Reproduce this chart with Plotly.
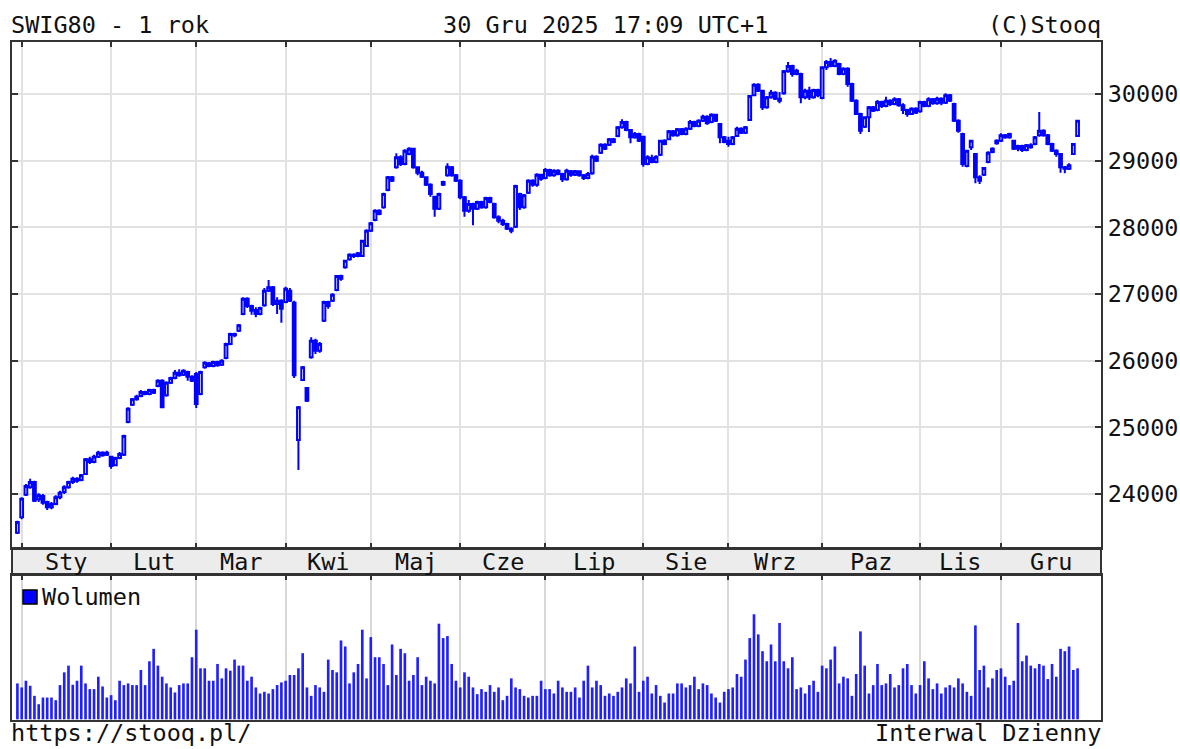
import plotly.graph_objects as go

# ---------------- data ----------------
months = ["Sty", "Lut", "Mar", "Kwi", "Maj", "Cze", "Lip", "Sie", "Wrz", "Paz", "Lis", "Gru"]
month_start = [1, 22, 42, 63, 83, 104, 124, 147, 167, 189, 212, 231]   # trading-day index of first session
price_ticks = [24000, 25000, 26000, 27000, 28000, 29000, 30000]

open_ = [
    # Dec 30 + Jan
    23420, 23650, 23990, 24100, 24180, 23920, 23970, 23880, 23800, 23850, 23950, 24030, 24100, 24180, 24230, 24210, 24300, 24520, 24480, 24560, 24620, 24590,
    # Feb
    24560, 24430, 24540, 24590, 25080, 25340, 25420, 25470, 25530, 25500, 25560, 25620, 25700, 25480, 25670, 25740, 25820, 25790, 25830, 25760,
    # Mar
    25800, 25500, 25900, 25960, 25920, 25980, 25940, 26040, 26250, 26400, 26450, 26700, 26930, 26820, 26760, 26700, 26830, 27050, 27100, 26850, 26900,
    # Apr
    26880, 27050, 26870, 24810, 25710, 25590, 26050, 26300, 26150, 26600, 26880, 26900, 27060, 27270, 27400, 27520, 27590, 27570, 27570, 27720,
    # May
    27950, 28110, 28250, 28300, 28560, 28750, 28900, 29050, 28950, 29100, 29180, 28900, 28820, 28750, 28640, 28460, 28280, 28640, 28780, 28900, 28780,
    # Jun
    28700, 28450, 28250, 28350, 28280, 28380, 28300, 28440, 28350, 28150, 28100, 28050, 27980, 28010, 28500, 28300, 28520, 28700, 28640, 28790,
    # Jul
    28740, 28860, 28780, 28850, 28800, 28720, 28840, 28790, 28840, 28780, 28740, 28810, 29060, 29120, 29240, 29240, 29320, 29370, 29500, 29580, 29460, 29350, 29400,
    # Aug
    29360, 28950, 29040, 28980, 29090, 29300, 29320, 29440, 29380, 29470, 29400, 29480, 29580, 29520, 29600, 29660, 29580, 29690, 29550, 29350,
    # Sep
    29300, 29250, 29370, 29480, 29420, 29610, 29980, 30140, 30050, 29800, 29950, 30020, 29930, 30010, 30340, 30420, 30300, 30300, 29950, 30050, 29950, 30060,
    # Oct
    29940, 30400, 30480, 30420, 30450, 30300, 30380, 30150, 29900, 29700, 29510, 29650, 29800, 29760, 29880, 29820, 29900, 29850, 29920, 29830, 29760, 29700, 29780,
    # Nov
    29740, 29880, 29820, 29920, 29860, 29930, 29870, 29980, 29850, 29600, 29400, 28920, 29200, 29100, 28750, 28790, 28980, 29130, 29260,
    # Dec
    29300, 29380, 29350, 29300, 29180, 29220, 29160, 29230, 29250, 29380, 29450, 29380, 29250, 29150, 29100, 28900, 28880, 29100, 29370,
]

close = [
    23580, 23930, 24120, 24180, 23900, 23980, 23870, 23800, 23850, 23950, 24020, 24100, 24180, 24230, 24200, 24280, 24520, 24480, 24560, 24620, 24580, 24620,
    24420, 24540, 24600, 24870, 25280, 25420, 25460, 25530, 25500, 25560, 25520, 25700, 25300, 25670, 25740, 25820, 25780, 25850, 25760, 25700,
    25350, 25830, 25970, 25920, 25980, 25930, 26000, 26250, 26400, 26380, 26530, 26930, 26820, 26750, 26700, 26790, 27050, 27100, 26850, 26900, 26780,
    27080, 26900, 25780, 25300, 25900, 25400, 26300, 26150, 26250, 26880, 26820, 26990, 27270, 27230, 27500, 27590, 27570, 27610, 27800, 27950,
    28060, 28250, 28200, 28500, 28750, 28700, 29050, 28950, 29150, 29180, 28900, 28820, 28760, 28640, 28500, 28280, 28500, 28680, 28910, 28780, 28700,
    28450, 28250, 28350, 28280, 28380, 28300, 28440, 28380, 28150, 28100, 28050, 27980, 27950, 28620, 28300, 28480, 28700, 28640, 28790, 28730,
    28860, 28780, 28850, 28800, 28720, 28850, 28790, 28840, 28780, 28740, 28800, 29060, 29000, 29240, 29180, 29320, 29280, 29500, 29580, 29460, 29350, 29400, 29300,
    28950, 29050, 28980, 29060, 29300, 29250, 29440, 29380, 29470, 29400, 29480, 29580, 29520, 29600, 29660, 29560, 29690, 29600, 29350, 29280,
    29250, 29350, 29480, 29420, 29500, 29970, 30140, 30050, 29800, 29950, 30020, 29930, 29900, 30340, 30420, 30300, 30350, 29950, 30050, 29950, 30060, 29980,
    30400, 30480, 30420, 30500, 30300, 30380, 30150, 29900, 29700, 29450, 29650, 29800, 29750, 29880, 29820, 29900, 29850, 29920, 29830, 29760, 29700, 29780, 29720,
    29880, 29820, 29920, 29860, 29930, 29870, 29980, 29900, 29600, 29450, 28950, 29150, 29300, 28750, 28700, 28890, 29120, 29180, 29300,
    29380, 29350, 29400, 29180, 29220, 29160, 29230, 29200, 29350, 29450, 29380, 29250, 29150, 29100, 28900, 28880, 28930, 29250, 29600,
]

high = [
    23600, 23950, 24150, 24230, 24200, 24010, 24000, 23900, 23880, 23980, 24050, 24130, 24200, 24260, 24250, 24300, 24540, 24560, 24590, 24650, 24640, 24650,
    24570, 24560, 24630, 24890, 25300, 25440, 25490, 25560, 25550, 25580, 25580, 25720, 25720, 25690, 25760, 25860, 25870, 25870, 25850, 25780,
    25830, 25850, 25990, 25980, 26000, 26000, 26020, 26270, 26420, 26420, 26550, 26950, 26950, 26840, 26800, 26810, 27090, 27210, 27120, 26950, 26920,
    27110, 27090, 26900, 25320, 25920, 25600, 26350, 26330, 26280, 26900, 26900, 27010, 27280, 27290, 27510, 27610, 27610, 27630, 27810, 27970,
    28080, 28270, 28270, 28520, 28770, 28770, 29110, 29080, 29170, 29200, 29190, 28910, 28850, 28760, 28660, 28470, 28520, 28700, 28960, 28920, 28800,
    28720, 28470, 28410, 28370, 28400, 28400, 28460, 28460, 28370, 28180, 28130, 28070, 28000, 28640, 28520, 28500, 28720, 28720, 28810, 28800,
    28890, 28880, 28870, 28870, 28820, 28880, 28860, 28860, 28850, 28800, 28830, 29090, 29080, 29260, 29260, 29340, 29340, 29520, 29620, 29600, 29470, 29430, 29420,
    29370, 29080, 29090, 29080, 29310, 29320, 29460, 29460, 29490, 29490, 29500, 29610, 29600, 29620, 29690, 29680, 29710, 29700, 29560, 29370,
    29360, 29370, 29510, 29500, 29520, 29980, 30160, 30160, 30060, 29970, 30060, 30040, 30030, 30360, 30480, 30440, 30380, 30320, 30080, 30110, 30080, 30080,
    30410, 30510, 30540, 30520, 30470, 30400, 30400, 30170, 29920, 29720, 29660, 29820, 29820, 29910, 29900, 29960, 29920, 29950, 29940, 29860, 29780, 29800, 29800,
    29900, 29900, 29950, 29940, 29960, 29950, 30010, 30000, 29870, 29620, 29420, 29160, 29310, 29110, 28780, 28900, 29140, 29200, 29320,
    29410, 29400, 29420, 29310, 29240, 29240, 29250, 29260, 29370, 29730, 29470, 29400, 29270, 29170, 29110, 28920, 28960, 29260, 29610,
]

low = [
    23400, 23620, 23970, 24080, 23880, 23880, 23840, 23760, 23770, 23830, 23920, 24000, 24080, 24150, 24170, 24190, 24290, 24450, 24460, 24540, 24560, 24570,
    24380, 24420, 24520, 24570, 25060, 25320, 25400, 25450, 25480, 25480, 25500, 25600, 25290, 25460, 25650, 25720, 25760, 25770, 25700, 25680,
    25290, 25480, 25880, 25900, 25900, 25910, 25920, 26020, 26230, 26350, 26430, 26680, 26790, 26690, 26650, 26680, 26810, 27030, 26820, 26700, 26570,
    26860, 26880, 25740, 24360, 25700, 25380, 26030, 26100, 26120, 26580, 26780, 26880, 27040, 27200, 27380, 27500, 27540, 27550, 27560, 27710,
    27930, 28090, 28180, 28280, 28540, 28680, 28880, 28920, 28930, 29080, 28880, 28780, 28740, 28620, 28460, 28160, 28260, 28620, 28760, 28760, 28680,
    28420, 28160, 28220, 28030, 28260, 28280, 28280, 28360, 28130, 28060, 28020, 27960, 27910, 27990, 28260, 28280, 28500, 28610, 28610, 28700,
    28720, 28760, 28760, 28780, 28680, 28700, 28760, 28770, 28760, 28710, 28720, 28790, 28980, 29100, 29160, 29220, 29260, 29350, 29480, 29440, 29260, 29330, 29280,
    28910, 28930, 28960, 28960, 29070, 29230, 29310, 29360, 29360, 29380, 29380, 29460, 29500, 29500, 29580, 29540, 29560, 29580, 29260, 29260,
    29210, 29230, 29360, 29400, 29400, 29600, 29970, 30030, 29760, 29780, 29930, 29910, 29860, 29990, 30320, 30260, 30280, 29860, 29920, 29910, 29930, 29950,
    29920, 30360, 30400, 30400, 30280, 30280, 30110, 29880, 29690, 29400, 29490, 29430, 29730, 29740, 29790, 29800, 29820, 29830, 29810, 29700, 29660, 29690, 29700,
    29720, 29800, 29800, 29840, 29840, 29830, 29850, 29880, 29580, 29420, 28910, 28900, 29160, 28660, 28650, 28770, 28960, 29110, 29240,
    29280, 29330, 29330, 29160, 29140, 29130, 29140, 29180, 29230, 29360, 29360, 29230, 29130, 29060, 28820, 28810, 28860, 29090, 29360,
]

volume = [
    107, 95, 115, 100, 70, 45, 65, 65, 65, 57, 102, 140, 160, 103, 115, 160, 107, 90, 90, 127, 98, 65,
    72, 57, 115, 102, 107, 102, 102, 147, 102, 173, 210, 160, 127, 107, 95, 80, 102, 107, 107, 185,
    267, 152, 152, 115, 115, 165, 122, 152, 145, 178, 160, 160, 115, 127, 95, 77, 82, 77, 90, 102, 110,
    115, 132, 132, 152, 197, 95, 70, 102, 95, 82, 178, 147, 140, 235, 217, 107, 140, 165, 267, 122,
    245, 185, 185, 165, 102, 223, 132, 210, 197, 115, 132, 185, 102, 127, 115, 107, 285, 242, 248, 165, 115,
    95, 140, 127, 95, 75, 90, 82, 102, 82, 95, 57, 70, 122, 95, 90, 70, 65, 70, 70, 115,
    90, 90, 77, 115, 95, 82, 82, 95, 65, 115, 160, 95, 115, 102, 70, 77, 70, 82, 95, 122, 107, 217, 82,
    115, 127, 77, 102, 70, 50, 77, 77, 107, 107, 95, 102, 127, 90, 107, 102, 77, 65, 50, 82,
    90, 95, 135, 127, 178, 242, 313, 253, 203, 173, 223, 173, 287, 173, 152, 185, 90, 95, 77, 102, 115, 82,
    160, 152, 178, 217, 107, 127, 122, 70, 135, 262, 160, 77, 102, 165, 102, 107, 135, 95, 102, 152, 165, 102, 77,
    102, 173, 122, 90, 107, 77, 95, 102, 95, 122, 107, 82, 70, 280, 147, 160, 95, 122, 147,
    152, 127, 102, 115, 287, 173, 190, 160, 152, 165, 160, 120, 165, 127, 210, 203, 217, 147, 152,
]

day = list(range(len(close)))

# ---------------- layout geometry (pixels) ----------------
W, H = 1180, 749
FL, FR, FT, FB = 12, 1101, 42, 720        # outer frame of plotting area
PRICE_BOTTOM, VOL_TOP = 548, 575           # month band between panels
X_MIN, X_MAX = -1.27, 254.5


def pxx(px):
    return (px - FL) / (FR - FL)


def pxy(py):
    return (FB - py) / (FB - FT)


FONT = "DejaVu Sans Mono"
FS = 23.5
INK = "#111111"
FRAME = "#333333"
BLUE = "#0000ff"

fig = go.Figure()

fig.add_trace(go.Candlestick(
    x=day, open=open_, high=high, low=low, close=close,
    increasing=dict(line=dict(color=BLUE, width=2), fillcolor="#ffffff"),
    decreasing=dict(line=dict(color=BLUE, width=2), fillcolor=BLUE),
    whiskerwidth=0, xaxis="x", yaxis="y", hoverinfo="skip",
))

fig.add_trace(go.Bar(
    x=day, y=volume, width=0.62,
    marker=dict(color="#1f1fff", line=dict(width=0)),
    xaxis="x2", yaxis="y2", hoverinfo="skip",
))

axis_common = dict(showline=True, linecolor=FRAME, linewidth=2, zeroline=False,
                   tickcolor=FRAME, tickwidth=2, automargin=False)

fig.update_layout(
    width=W, height=H, autosize=False,
    margin=dict(l=FL, r=W - FR, t=FT, b=H - FB, pad=0, autoexpand=False),
    paper_bgcolor="white", plot_bgcolor="white",
    showlegend=False,
    boxgap=0.08,
    xaxis=dict(domain=[0, 1], range=[X_MIN, X_MAX], anchor="y",
               tickvals=month_start, showticklabels=False,
               ticks="inside", ticklen=5, mirror="ticks",
               showgrid=True, gridcolor="#e2e2e2", gridwidth=2,
               rangeslider=dict(visible=False), **axis_common),
    yaxis=dict(domain=[pxy(PRICE_BOTTOM), 1], range=[23190, 30780], anchor="x",
               side="right", tickvals=price_ticks, ticktext=[str(v) for v in price_ticks],
               ticks="inside", ticklen=6, mirror="ticks",
               showgrid=True, gridcolor="#e2e2e2", gridwidth=2,
               tickfont=dict(family=FONT, size=FS, color=INK), **axis_common),
    xaxis2=dict(domain=[0, 1], range=[X_MIN, X_MAX], anchor="y2", side="top",
                tickvals=month_start, showticklabels=False,
                ticks="inside", ticklen=5, mirror=True,
                showgrid=True, gridcolor="#d8d8d8", gridwidth=1.5, **axis_common),
    yaxis2=dict(domain=[0, pxy(VOL_TOP)], range=[-2, 430], anchor="x2",
                showticklabels=False, showgrid=False, ticks="", mirror=True, **axis_common),
)

# month band
fig.add_shape(type="rect", xref="paper", yref="paper",
              x0=0, x1=1, y0=pxy(VOL_TOP), y1=pxy(PRICE_BOTTOM),
              fillcolor="#ececec", line=dict(color=FRAME, width=2), layer="below")

ends = month_start[1:] + [X_MAX]
for name, a, b in zip(months, month_start, ends):
    fig.add_annotation(x=(a + b) / 2, xref="x", y=pxy((PRICE_BOTTOM + VOL_TOP) / 2), yref="paper",
                       text=name, showarrow=False, xanchor="center", yanchor="middle",
                       font=dict(family=FONT, size=FS, color=INK))


# header / footer texts
def txt(text, px, py, anchor):
    fig.add_annotation(x=pxx(px), y=pxy(py), xref="paper", yref="paper", text=text,
                       showarrow=False, xanchor=anchor, yanchor="middle", borderpad=0,
                       font=dict(family=FONT, size=FS, color=INK))


txt("SWIG80 - 1 rok", 10, 25, "left")
txt("30 Gru 2025 17:09 UTC+1", 605, 25, "center")
txt("(C)Stooq", 1102, 25, "right")
txt("https://stooq.pl/", 10, 733, "left")
txt("Interwal Dzienny", 1102, 733, "right")

# volume legend
fig.add_shape(type="rect", xref="paper", yref="paper",
              x0=pxx(23), x1=pxx(37), y0=pxy(604), y1=pxy(590),
              fillcolor=BLUE, line=dict(color="#000000", width=1.5))
txt("Wolumen", 41, 597, "left")

fig.write_html(
    "out.html",
    config={"responsive": False, "displayModeBar": False},
    post_script="document.body.style.margin='0px';document.body.style.overflow='hidden';",
)
